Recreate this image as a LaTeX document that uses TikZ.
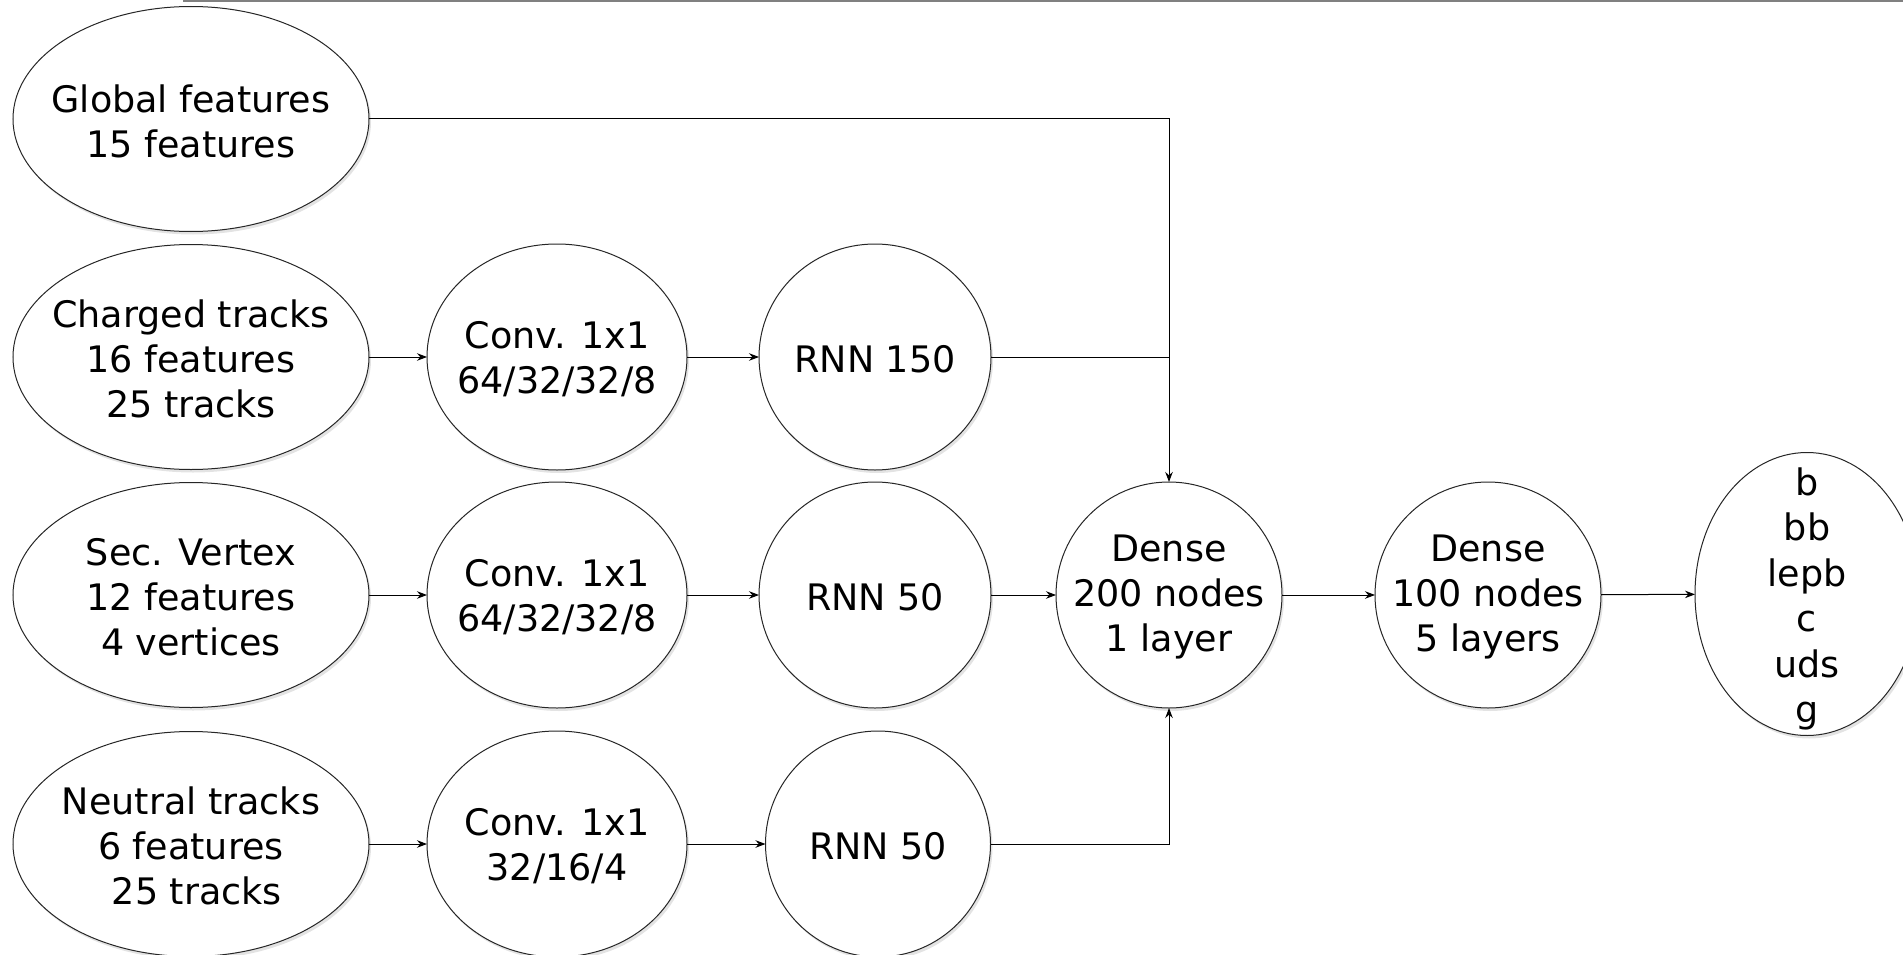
\documentclass[tikz,border=0pt]{standalone}
\usepackage{fontspec}
\setmainfont{DejaVu Sans}
\usetikzlibrary{shapes.geometric,arrows.meta,shadows}
\begin{document}
\begin{tikzpicture}[x=1pt,y=1pt,
  font=\fontsize{36.5}{45}\selectfont,
  blob/.style={ellipse,draw=black!85,line width=1pt,fill=white,inner sep=0pt,outer sep=0pt,
    drop shadow={shadow xshift=2pt,shadow yshift=-3pt,opacity=0.22}},
  inbox/.style={blob,minimum width=356pt,minimum height=225pt},
  convbox/.style={blob,minimum width=260pt,minimum height=226pt},
  rnnbox/.style={blob,minimum width=232pt,minimum height=226pt},
  densebox/.style={blob,minimum width=226pt,minimum height=226pt},
  txt/.style={align=center,inner sep=0pt,yshift=-2pt},
  link/.style={line width=1pt,-{Stealth[length=10pt,width=7.5pt]}},
  joinline/.style={line width=1pt}]
\useasboundingbox (0,0) rectangle (1903,-955);

% thin rule along the top edge
\coordinate (ruleA) at (183,-0.8);
\coordinate (ruleB) at (1903,-0.8);
\draw[black!50,line width=1.6pt] (ruleA) -- (ruleB);

% input blocks
\node[inbox] (glob) at (191,-119) {};
\node[txt] (globT) at (glob) {Global features\\15 features};
\node[inbox] (chg) at (191,-357) {};
\node[txt] (chgT) at (chg) {Charged tracks\\16 features\\25 tracks};
\node[inbox] (sec) at (191,-595) {};
\node[txt] (secT) at (sec) {Sec. Vertex\\12 features\\4 vertices};
\node[inbox] (neu) at (191,-844) {};
\node[txt] (neuT) at (neu) {Neutral tracks\\6 features\\\ 25 tracks};

% convolution blocks
\node[convbox] (c1) at (557,-357) {};
\node[txt] (c1T) at (c1) {Conv. 1x1\\64/32/32/8};
\node[convbox] (c2) at (557,-595) {};
\node[txt] (c2T) at (c2) {Conv. 1x1\\64/32/32/8};
\node[convbox] (c3) at (557,-844) {};
\node[txt] (c3T) at (c3) {Conv. 1x1\\32/16/4};

% recurrent blocks
\node[rnnbox] (r1) at (875,-357) {};
\node[txt] (r1T) at (r1) {RNN 150};
\node[rnnbox] (r2) at (875,-595) {};
\node[txt] (r2T) at (r2) {RNN 50};
\node[rnnbox,minimum width=225pt] (r3) at (878,-844) {};
\node[txt] (r3T) at (r3) {RNN 50};

% dense blocks
\node[densebox] (d1) at (1169,-595) {};
\node[txt] (d1T) at (d1) {Dense\\200 nodes\\1 layer};
\node[densebox] (d2) at (1488,-595) {};
\node[txt] (d2T) at (d2) {Dense\\100 nodes\\5 layers};

% output classes
\node[blob,minimum width=224pt,minimum height=283pt] (out) at (1807,-594) {};
\node[txt,yshift=-3pt,font=\fontsize{36.5}{45.4}\selectfont] (outT) at (out) {b\\bb\\lepb\\c\\uds\\g};

% connectors
\draw[link] (chg) -- (c1);
\draw[link] (sec) -- (c2);
\draw[link] (neu) -- (c3);
\draw[link] (c1) -- (r1);
\draw[link] (c2) -- (r2);
\draw[link] (c3) -- (r3);
\draw[link] (glob.east) -| (d1.north);
\draw[joinline] (r1.east) -- (r1.east -| d1.north);
\draw[link] (r2) -- (d1);
\draw[link] (r3.east) -| (d1.south);
\draw[link] (d1) -- (d2);
\draw[link] (d2) -- (out);
\end{tikzpicture}
\end{document}
